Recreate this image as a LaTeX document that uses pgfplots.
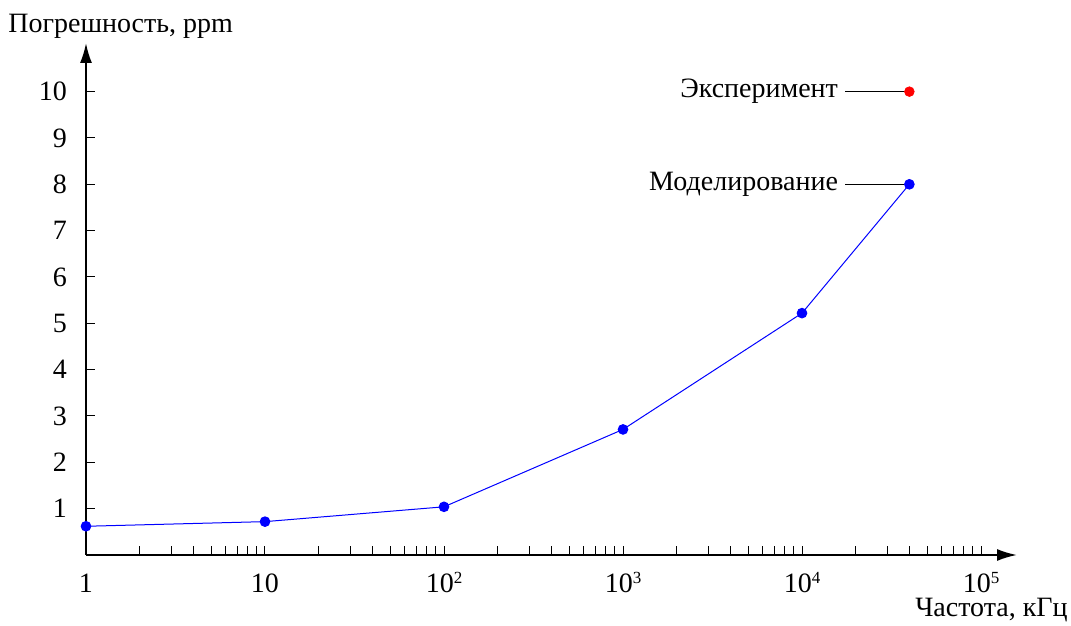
\documentclass[border=0pt]{standalone}
\usepackage{fontspec}
\setmainfont{Liberation Serif}
\usepackage{pgfplots}
\pgfplotsset{compat=1.18}
\usetikzlibrary{arrows.meta}
\newcommand{\sups}[1]{\raisebox{4.6pt}{\fontsize{8.5}{9}\selectfont #1}}
\begin{document}
\begin{tikzpicture}[font=\fontsize{14}{16}\selectfont]
\begin{axis}[
  xmode=log,
  scale only axis,
  width=465.5pt, height=256pt,
  xmin=1, xmax=158900,
  ymin=0, ymax=11.05,
  axis lines=left,
  axis line style={line width=1pt, -{Latex[length=10pt,width=6pt]}},
  tick align=inside,
  major tick length=4.5pt,
  minor tick length=4.5pt,
  every tick/.style={black, line width=0.5pt},
  xtick={1,10,100,1000,10000,100000},
  xticklabels={1,10,10\sups{2},10\sups{3},10\sups{4},10\sups{5}},
  xticklabel style={anchor=base, yshift=-19pt, inner sep=0pt},
  ytick={1,2,3,4,5,6,7,8,9,10},
  yticklabel style={anchor=east, xshift=-6pt},
  /pgf/number format/assume math mode=true,
  clip=false,
]
\addplot[blue, line width=0.5pt, mark=*, mark size=2.4pt, mark options={fill=blue, draw=blue}]
  coordinates {(1,0.62) (10,0.72) (100,1.04) (1000,2.71) (10000,5.22) (39800,8.0)};
\addplot[only marks, red, mark=*, mark size=2.4pt, mark options={fill=red, draw=red}]
  coordinates {(39800,10)};
\draw[black, line width=0.5pt] (axis cs:17460,10) -- (axis cs:39800,10);
\draw[black, line width=0.5pt] (axis cs:17460,8) -- (axis cs:39800,8);
\node[anchor=east, inner sep=0pt, xshift=-3.5pt] at (axis cs:17460,10) {Эксперимент};
\node[anchor=east, inner sep=0pt, xshift=-3.5pt] at (axis cs:17460,8) {Моделирование};
\node[anchor=base west, inner sep=0pt] at ([shift={(-39pt,5pt)}]rel axis cs:0,1) {Погрешность, ppm};
\node[anchor=base east, inner sep=0pt] at ([shift={(25.5pt,-31pt)}]rel axis cs:1,0) {Частота, кГц};
\end{axis}
\pgfresetboundingbox
\path[use as bounding box] (-43pt,-35.5pt) rectangle (492.5pt,277.5pt);
\end{tikzpicture}
\end{document}
